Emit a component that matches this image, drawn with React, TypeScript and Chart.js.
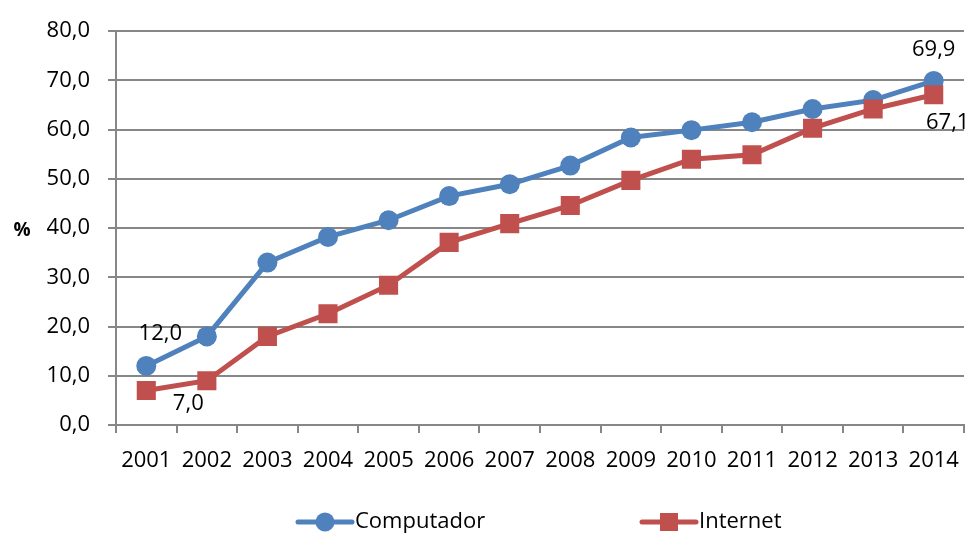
import React, { useEffect, useRef } from "react";
import { Chart, registerables } from "chart.js";

Chart.register(...registerables);

const years = ["2001", "2002", "2003", "2004", "2005", "2006", "2007", "2008", "2009", "2010", "2011", "2012", "2013", "2014"];
const computador = [12.0, 18.0, 33.0, 38.2, 41.6, 46.5, 48.9, 52.7, 58.4, 59.9, 61.5, 64.2, 66.0, 69.9];
const internet = [7.0, 9.0, 18.0, 22.6, 28.4, 37.1, 40.9, 44.6, 49.7, 54.0, 54.9, 60.3, 64.2, 67.1];
const yTicks = [0, 10, 20, 30, 40, 50, 60, 70, 80];

const BLUE = "#4F81BD";
const RED = "#C0504D";
const GRID = "#878787";
const FONT = "'Open Sans', sans-serif";

const fmt = (v: number) => v.toFixed(1).replace(".", ",");

export default function App() {
  const ref = useRef<HTMLCanvasElement | null>(null);

  useEffect(() => {
    document.body.style.margin = "0";
    const canvas = ref.current!;
    const extras = {
      id: "extras",
      afterDraw(chart: any) {
        const ctx = chart.ctx;
        ctx.save();
        ctx.fillStyle = "#000";
        ctx.font = `bold 19px ${FONT}`;
        ctx.textAlign = "center";
        ctx.textBaseline = "middle";
        ctx.fillText("%", 22, chart.chartArea.top + (chart.chartArea.bottom - chart.chartArea.top) / 2 + 2);

        ctx.font = `22px ${FONT}`;
        const m0 = chart.getDatasetMeta(0).data;
        const m1 = chart.getDatasetMeta(1).data;
        const n = years.length - 1;
        ctx.fillText(fmt(computador[0]), m0[0].x + 14, m0[0].y - 32);
        ctx.fillText(fmt(internet[0]), m1[0].x + 42, m1[0].y + 13);
        ctx.fillText(fmt(computador[n]), m0[n].x, m0[n].y - 31);
        ctx.fillText(fmt(internet[n]), m1[n].x + 14, m1[n].y + 28);

        const ly = 522;
        const items = [
          { x: 298, label: "Computador", color: BLUE, style: "circle" },
          { x: 642, label: "Internet", color: RED, style: "rect" },
        ];
        for (const it of items) {
          ctx.strokeStyle = it.color;
          ctx.lineWidth = 5;
          ctx.lineCap = "round";
          ctx.beginPath();
          ctx.moveTo(it.x, ly);
          ctx.lineTo(it.x + 54, ly);
          ctx.stroke();
          ctx.fillStyle = it.color;
          if (it.style === "circle") {
            ctx.beginPath();
            ctx.arc(it.x + 27, ly, 9.5, 0, Math.PI * 2);
            ctx.fill();
          } else {
            ctx.fillRect(it.x + 27 - 9, ly - 9, 18, 18);
          }
          ctx.fillStyle = "#000";
          ctx.textAlign = "left";
          ctx.font = `22px ${FONT}`;
          ctx.fillText(it.label, it.x + 57, ly);
        }
        ctx.restore();
      },
    };

    const chart = new Chart(canvas, {
      type: "line",
      data: {
        labels: years,
        datasets: [
          {
            label: "Computador",
            data: computador,
            borderColor: BLUE,
            backgroundColor: BLUE,
            borderWidth: 5,
            pointStyle: "circle",
            pointRadius: 10,
            pointBorderWidth: 0,
            tension: 0,
            order: 2,
          },
          {
            label: "Internet",
            data: internet,
            borderColor: RED,
            backgroundColor: RED,
            borderWidth: 5,
            pointStyle: "rect",
            pointRadius: 13.5,
            pointBorderWidth: 0,
            tension: 0,
            order: 1,
          },
        ],
      },
      options: {
        animation: false,
        responsive: false,
        maintainAspectRatio: false,
        layout: { autoPadding: false, padding: { top: 28, right: 6, left: 0, bottom: 0 } },
        plugins: {
          legend: { display: false },
          tooltip: { enabled: false },
          title: { display: false },
        },
        scales: {
          x: {
            type: "category",
            offset: true,
            grid: {
              offset: true,
              drawOnChartArea: false,
              drawTicks: true,
              tickLength: 8,
              color: GRID,
              lineWidth: 2,
            },
            border: { color: GRID, width: 2 },
            ticks: {
              color: "#000",
              font: { family: FONT, size: 22 },
              padding: 15,
              maxRotation: 0,
              autoSkip: false,
            },
            afterFit(scale: any) {
              scale.height = 111;
              scale.paddingLeft = 0;
              scale.paddingRight = 0;
            },
          },
          y: {
            min: 0,
            max: 80,
            afterBuildTicks(scale: any) {
              scale.ticks = yTicks.map((v) => ({ value: v }));
            },
            grid: {
              color: GRID,
              lineWidth: 2,
              tickLength: 8,
            },
            border: { color: GRID, width: 2 },
            ticks: {
              color: "#000",
              font: { family: FONT, size: 22 },
              padding: 18,
              callback: (v: any) => fmt(Number(v)),
            },
            afterFit(scale: any) {
              scale.width = 116;
            },
          },
        },
      },
      plugins: [extras],
    });
    return () => chart.destroy();
  }, []);

  return (
    <div style={{ position: "absolute", left: 0, top: 0, width: 970, height: 536 }}>
      <canvas ref={ref} width={970} height={536} style={{ width: 970, height: 536 }} />
    </div>
  );
}
